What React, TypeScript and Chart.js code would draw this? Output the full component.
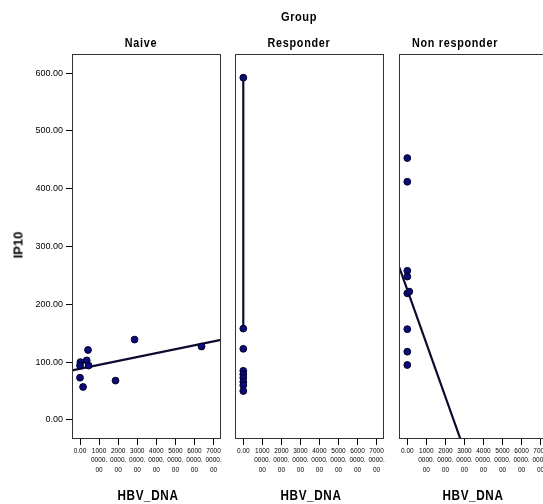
import React, { useEffect, useRef } from "react";
import { Chart, registerables } from "chart.js";
Chart.register(...registerables);

// ---- data ----
const panelNames = ["Naive", "Responder", "Non responder"];

const naiveX = [200000, 3500000, 4200000, 4500000, 0, 0, 1600000, 18600000, 28600000, 63700000];
const naiveY = [100, 103, 121, 94, 94, 73, 57, 68, 139, 127];
const naiveFitX = [-4200000, 73900000];
const naiveFitY = [85.5, 138.6];

const respX = [0, 0, 0, 0, 0, 0, 0, 0, 0];
const respY = [592, 158, 123, 85, 79, 73, 66, 60, 50];
const respFitX = [0, 0];
const respFitY = [592, 158];

const nonX = [0, 0, 0, 0, 0, 1050000, 0, 0, 0];
const nonY = [453, 412, 258, 248, 219, 222, 157, 118, 95];
const nonFitX = [-4200000, 27900000];
const nonFitY = [264, -33];

const xTicks = [0, 10000000, 20000000, 30000000, 40000000, 50000000, 60000000, 70000000];
const xTickLabels = [
  ["0.00"],
  ["1000", "0000.", "00"],
  ["2000", "0000.", "00"],
  ["3000", "0000.", "00"],
  ["4000", "0000.", "00"],
  ["5000", "0000.", "00"],
  ["6000", "0000.", "00"],
  ["7000", "0000.", "00"],
];
const yTicks = [0, 100, 200, 300, 400, 500, 600];
const yTickLabels = ["0.00", "100.00", "200.00", "300.00", "400.00", "500.00", "600.00"];

const X_MIN = -4200000;
const X_MAX = 73900000;
const Y_MIN = -33;
const Y_MAX = 633;

const POINT_FILL = "#0b0b7a";
const POINT_EDGE = "#00002a";
const LINE_COLOR = "#0a0a30";

const boxPlugin = {
  id: "panelBox",
  afterDatasetsDraw(chart: any) {
    const { ctx, chartArea } = chart;
    ctx.save();
    ctx.strokeStyle = "#333";
    ctx.lineWidth = 1;
    ctx.strokeRect(
      Math.round(chartArea.left) + 0.5,
      Math.round(chartArea.top) + 0.5,
      Math.round(chartArea.right - chartArea.left) - 1,
      Math.round(chartArea.bottom - chartArea.top) - 1
    );
    ctx.restore();
  },
};

type PanelProps = {
  left: number;
  width: number;
  padLeft: number;
  padRight: number;
  showY: boolean;
  xs: number[];
  ys: number[];
  fitX: number[];
  fitY: number[];
};

function Panel(p: PanelProps) {
  const ref = useRef<HTMLCanvasElement | null>(null);
  useEffect(() => {
    if (!ref.current) return;
    const pts = p.xs.map((x, i) => ({ x, y: p.ys[i] }));
    const fit = p.fitX.map((x, i) => ({ x, y: p.fitY[i] }));
    const chart = new Chart(ref.current, {
      type: "scatter",
      data: {
        datasets: [
          {
            data: fit,
            showLine: true,
            borderColor: LINE_COLOR,
            borderWidth: 2.2,
            pointRadius: 0,
            order: 2,
          } as any,
          {
            data: pts,
            pointRadius: 3.4,
            pointBackgroundColor: POINT_FILL,
            pointBorderColor: POINT_EDGE,
            pointBorderWidth: 1,
            order: 1,
          } as any,
        ],
      },
      options: {
        responsive: false,
        animation: false,
        layout: { padding: { left: p.padLeft, right: p.padRight, top: 54, bottom: 0 } },
        plugins: { legend: { display: false }, tooltip: { enabled: false }, title: { display: false } },
        scales: {
          x: {
            type: "linear",
            min: X_MIN,
            max: X_MAX,
            afterBuildTicks: (s: any) => {
              s.ticks = xTicks.map((v) => ({ value: v }));
            },
            afterFit: (s: any) => {
              s.height = 65;
            },
            border: { display: false },
            grid: { display: true, drawOnChartArea: false, drawTicks: true, tickLength: 6, color: "#000", lineWidth: 1 },
            ticks: {
              autoSkip: false,
              maxRotation: 0,
              minRotation: 0,
              padding: 2,
              color: "#000",
              font: { family: "'Liberation Sans', Arial, sans-serif", size: 6.5, lineHeight: 1.4 },
              callback: (_v: any, i: number) => xTickLabels[i],
            },
          },
          y: {
            type: "linear",
            display: p.showY,
            min: Y_MIN,
            max: Y_MAX,
            afterBuildTicks: (s: any) => {
              s.ticks = yTicks.map((v) => ({ value: v }));
            },
            afterFit: (s: any) => {
              s.width = p.showY ? 72 : 0;
            },
            border: { display: false },
            grid: { display: true, drawOnChartArea: false, drawTicks: true, tickLength: 6, color: "#000", lineWidth: 1 },
            ticks: {
              padding: 3,
              color: "#000",
              font: { family: "'Liberation Sans', Arial, sans-serif", size: 9 },
              callback: (_v: any, i: number) => yTickLabels[i],
            },
          },
        },
      },
      plugins: [boxPlugin],
    });
    return () => chart.destroy();
  }, []);
  return (
    <canvas
      ref={ref}
      width={p.width}
      height={504}
      style={{ position: "absolute", left: p.left, top: 0, width: p.width, height: 504 }}
    />
  );
}

function Label(props: { text: string; x: number; y: number; size: number; rotate?: boolean; spacing?: number; sx?: number }) {
  const sx = props.sx ?? 1;
  return (
    <div
      style={{
        position: "absolute",
        left: props.x,
        top: props.y,
        transform: `translate(-50%, -50%)${props.rotate ? " rotate(-90deg)" : ""} scaleX(${sx})`,
        fontFamily: "'Liberation Sans', Arial, sans-serif",
        fontWeight: "bold",
        fontSize: props.size,
        letterSpacing: props.spacing ?? 0,
        whiteSpace: "nowrap",
        lineHeight: 1,
        color: "#000",
      }}
    >
      {props.text}
    </div>
  );
}

export default function App() {
  return (
    <div
      style={{
        position: "absolute",
        left: 0,
        top: 0,
        width: 543,
        height: 504,
        overflow: "hidden",
        background: "#fff",
      }}
    >
      <Panel left={0} width={230} padLeft={0} padRight={9} showY={true} xs={naiveX} ys={naiveY} fitX={naiveFitX} fitY={naiveFitY} />
      <Panel left={230} width={160} padLeft={5.3} padRight={6} showY={false} xs={respX} ys={respY} fitX={respFitX} fitY={respFitY} />
      <Panel left={390} width={170} padLeft={9.3} padRight={12} showY={false} xs={nonX} ys={nonY} fitX={nonFitX} fitY={nonFitY} />
      <Label text="Group" x={298.5} y={17} size={12} spacing={0.6} sx={0.92} />
      <Label text={panelNames[0]} x={141} y={43} size={12} spacing={0.8} sx={0.9} />
      <Label text={panelNames[1]} x={298.5} y={43} size={12} spacing={0.8} sx={0.9} />
      <Label text={panelNames[2]} x={455} y={43} size={12} spacing={0.8} sx={0.9} />
      <Label text="HBV_DNA" x={147.5} y={494} size={15} spacing={0.8} sx={0.78} />
      <Label text="HBV_DNA" x={311} y={494} size={15} spacing={0.8} sx={0.78} />
      <Label text="HBV_DNA" x={473} y={494} size={15} spacing={0.8} sx={0.78} />
      <Label text="IP10" x={18} y={245} size={13} rotate />
    </div>
  );
}
